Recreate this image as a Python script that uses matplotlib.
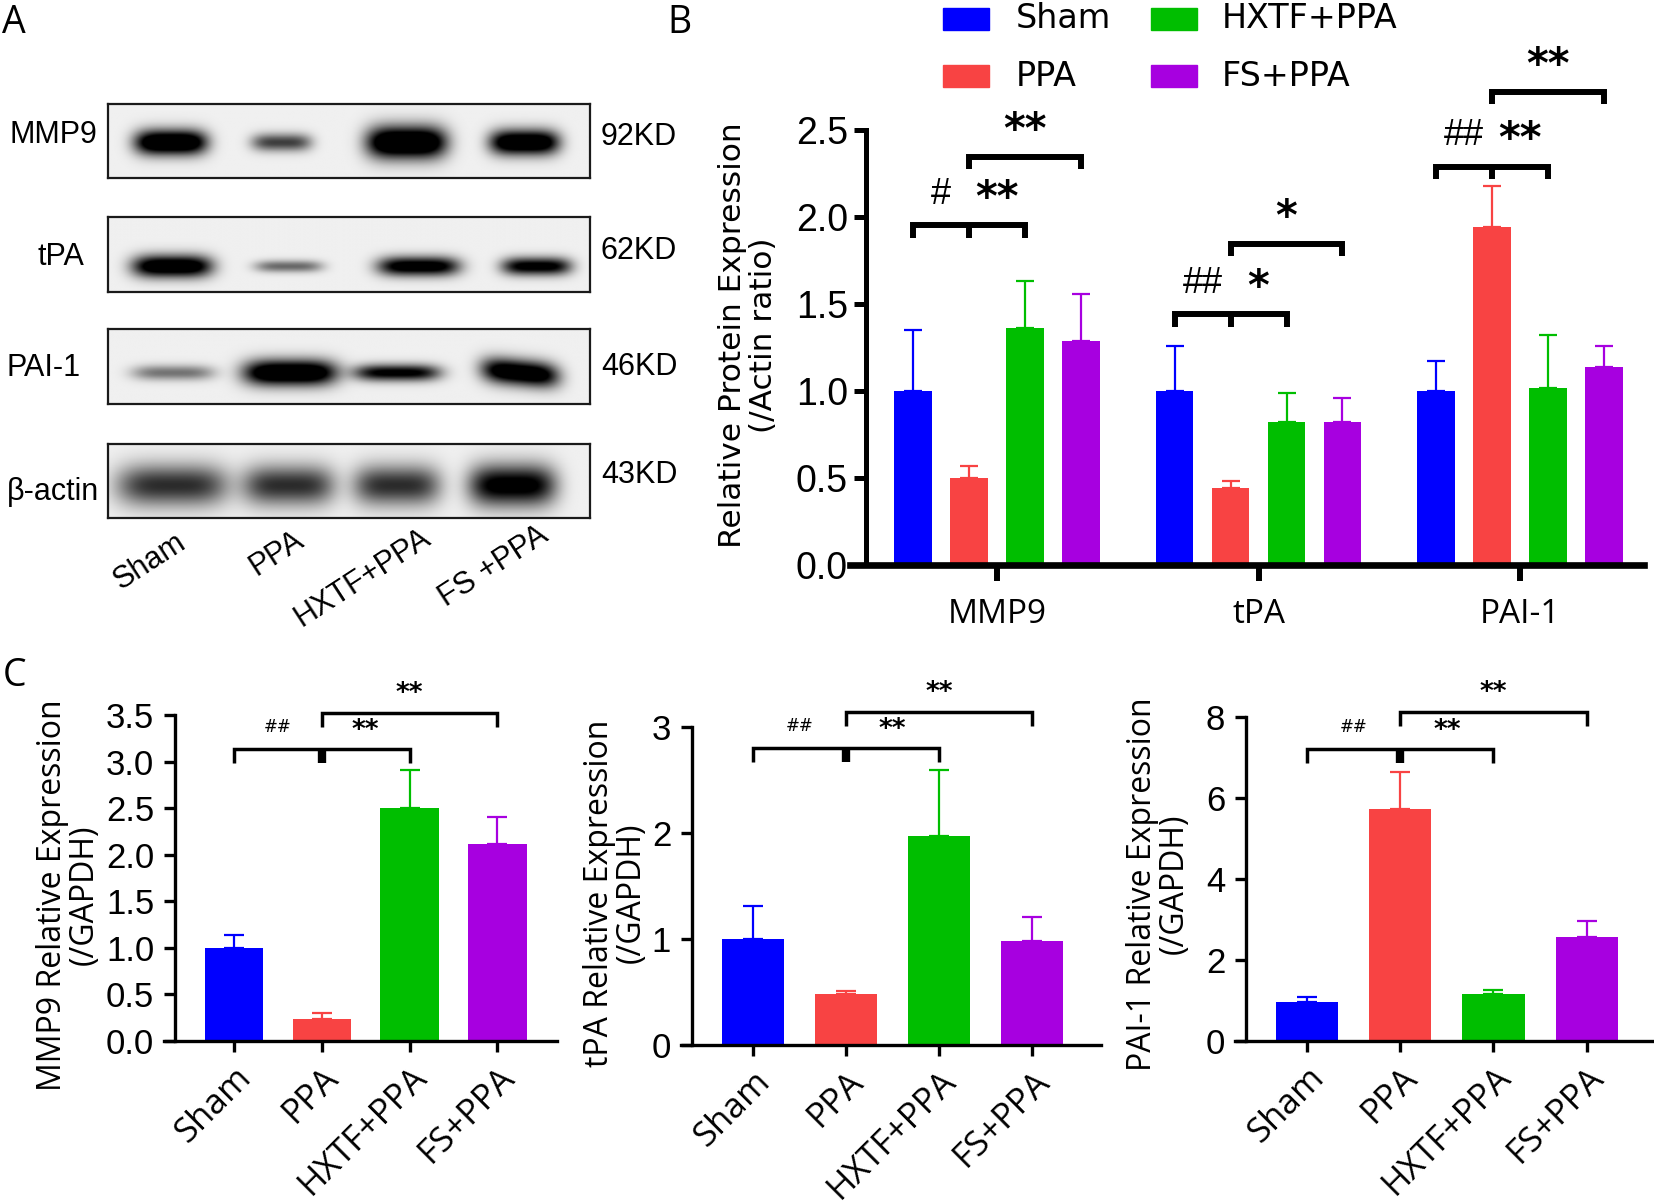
import numpy as np
import matplotlib
matplotlib.use('Agg')
import matplotlib.pyplot as plt
import matplotlib.transforms as mtransforms
from matplotlib.patches import Rectangle
from matplotlib import font_manager

# --- data -------------------------------------------------------------
groups = ['Sham', 'PPA', 'HXTF+PPA', 'FS+PPA']
colors = ['#0000FF', '#F84343', '#00BE00', '#A700E0']

# western blot band darkness per lane (Sham, PPA, HXTF+PPA, FS+PPA)
blot_rows = ['MMP9', 'tPA', 'PAI-1', 'β-actin']
blot_kd = ['92KD', '62KD', '46KD', '43KD']
band_mmp9 = [0.97, 0.50, 1.00, 0.93]
band_tpa = [0.88, 0.38, 0.80, 0.75]
band_pai1 = [0.35, 0.95, 0.72, 0.88]
band_actin = [0.55, 0.55, 0.55, 0.75]
lane_labels = ['Sham', 'PPA', 'HXTF+PPA', 'FS +PPA']

# panel B: protein / actin ratio
proteins = ['MMP9', 'tPA', 'PAI-1']
b_sham = [1.00, 1.00, 1.00]
b_ppa = [0.50, 0.44, 1.94]
b_hxtf = [1.36, 0.82, 1.02]
b_fs = [1.29, 0.82, 1.14]
b_sham_sd = [0.35, 0.26, 0.17]
b_ppa_sd = [0.07, 0.04, 0.24]
b_hxtf_sd = [0.27, 0.17, 0.30]
b_fs_sd = [0.27, 0.14, 0.12]

# panel C: mRNA / GAPDH
mmp9_rel = [1.00, 0.24, 2.50, 2.12]
mmp9_sd = [0.14, 0.06, 0.41, 0.28]
tpa_rel = [1.00, 0.48, 1.97, 0.98]
tpa_sd = [0.31, 0.03, 0.62, 0.23]
pai1_rel = [0.97, 5.73, 1.15, 2.57]
pai1_sd = [0.11, 0.91, 0.11, 0.39]

# --- fonts ------------------------------------------------------------
installed = {f.name for f in font_manager.fontManager.ttflist}
NARROW = 'Liberation Sans Narrow' if 'Liberation Sans Narrow' in installed else 'Liberation Sans'
SANS = 'Open Sans'
plt.rcParams['font.family'] = [SANS, 'DejaVu Sans']

W, H = 1654, 1204
fig = plt.figure(figsize=(W / 100, H / 100), dpi=100)


def px_axes(left, top, right, bottom):
    return fig.add_axes([left / W, 1 - bottom / H, (right - left) / W, (bottom - top) / H])


def ftext(x, y, s, **kw):
    return fig.text(x / W, 1 - y / H, s, **kw)


# --- panel A: blots ---------------------------------------------------
ftext(2, 4, 'A', fontsize=27, ha='left', va='top')

blot_boxes = [(104, 178), (217, 292), (329, 404), (444, 518)]
blot_bands = [band_mmp9, band_tpa, band_pai1, band_actin]
# lane geometry (fraction of box): centers, half widths, band centre y, half height
lane_geo = [
    ([0.13, 0.36, 0.62, 0.865], [0.075, 0.062, 0.083, 0.072], 0.52, [0.17, 0.12, 0.22, 0.17]),
    ([0.133, 0.375, 0.645, 0.89], [0.083, 0.07, 0.085, 0.072], 0.66, [0.15, 0.08, 0.13, 0.12]),
    ([0.135, 0.378, 0.60, 0.856], [0.085, 0.097, 0.09, 0.08], 0.59, [0.10, 0.17, 0.11, 0.17]),
    ([0.133, 0.375, 0.60, 0.84], [0.115, 0.095, 0.09, 0.09], 0.56, [0.28, 0.27, 0.27, 0.28]),
]
left_lab = [(53, 135), (61, 257), (44, 368), (53, 492)]
kd_y = [137, 251, 367, 475]

xx, yy = np.meshgrid(np.linspace(0, 1, 480), np.linspace(0, 1, 90))
for i, (top, bot) in enumerate(blot_boxes):
    ax = px_axes(108, top, 590, bot)
    centers, hws, yc, hhs = lane_geo[i]
    img = np.full_like(xx, 0.94)
    for dark, c, hw, hh in zip(blot_bands[i], centers, hws, hhs):
        # PAI-1 FS lane runs slightly downhill in the original scan
        tilt = 0.6 * (xx - c) if (i == 2 and c > 0.8) else 0.0
        img -= 1.4 * dark * np.exp(-np.abs((xx - c) / hw) ** 4) \
            * np.exp(-((yy - yc - tilt) / hh) ** 2)
    ax.imshow(np.clip(img, 0, 1), cmap='gray', vmin=0, vmax=1, aspect='auto',
              extent=[0, 1, 1, 0], interpolation='bilinear')
    ax.set_xticks([])
    ax.set_yticks([])
    for sp in ax.spines.values():
        sp.set_linewidth(1.6)
        sp.set_color('#1a1a1a')
    ftext(left_lab[i][0], left_lab[i][1], blot_rows[i], fontsize=22, family=NARROW,
          ha='center', va='center')
    ftext(601, kd_y[i], blot_kd[i], fontsize=22, family=NARROW, ha='left', va='center')

for lab, (x, y) in zip(lane_labels, [(150, 562), (277, 553), (363, 578), (494, 567)]):
    ftext(x, y, lab, fontsize=22, family=NARROW, rotation=33, ha='center', va='center',
          rotation_mode='anchor')

# --- panel B ----------------------------------------------------------
ftext(667, 4, 'B', fontsize=27, ha='left', va='top')

axB = px_axes(866, 130, 1644, 565)
x = np.arange(len(proteins))
offsets = [-0.321, -0.107, 0.107, 0.321]
b_means = [b_sham, b_ppa, b_hxtf, b_fs]
b_sds = [b_sham_sd, b_ppa_sd, b_hxtf_sd, b_fs_sd]
for k in range(4):
    xs = x + offsets[k]
    axB.bar(xs, b_means[k], width=0.143, color=colors[k], zorder=2)
    axB.errorbar(xs, b_means[k], yerr=[np.zeros(3), b_sds[k]], fmt='none', ecolor=colors[k],
                 elinewidth=1.6, capsize=6.5, capthick=1.6, zorder=1)

axB.set_xlim(-0.501, 2.474)
axB.set_ylim(0, 2.5)
axB.spines[['top', 'right']].set_visible(False)
axB.spines['left'].set_linewidth(3.6)
axB.spines['bottom'].set_linewidth(4.8)
axB.spines['bottom'].set_bounds(-0.501 - 16 / 261.5, 2.474)
axB.set_yticks(np.arange(0, 2.51, 0.5))
axB.set_yticklabels([f'{v:.1f}' for v in np.arange(0, 2.51, 0.5)], family=NARROW, fontsize=27)
axB.tick_params(axis='y', length=9, width=3.6, pad=4)
axB.set_xticks(x)
axB.set_xticklabels(proteins, fontsize=24)
axB.tick_params(axis='x', length=11.5, width=4.3, pad=12)
ftext(748, 335, 'Relative Protein Expression\n(/Actin ratio)', family='DejaVu Sans',
      fontsize=22.5, rotation=90, ha='center', va='center', multialignment='center',
      linespacing=1.05)

# significance brackets in panel B
b_marks = [  # (lower bracket y, upper bracket y, left mark, mid mark, top mark)
    (1.952, 2.346, '#', '**', '**'),
    (1.44, 1.844, '##', '*', '*'),
    (2.29, 2.72, '##', '**', '**'),
]
for g, (ylo, yup, m1, m2, m3) in enumerate(b_marks):
    xs = g + np.array(offsets)
    drop = 0.07
    axB.plot([xs[0], xs[0], xs[2], xs[2]], [ylo - drop, ylo, ylo, ylo - drop], color='k',
             lw=4.3, clip_on=False, solid_capstyle='butt', solid_joinstyle='miter')
    axB.plot([xs[1], xs[1]], [ylo, ylo - drop], color='k', lw=4.3, clip_on=False,
             solid_capstyle='butt')
    axB.plot([xs[1], xs[1], xs[3], xs[3]], [yup - drop, yup, yup, yup - drop], color='k',
             lw=4.3, clip_on=False, solid_capstyle='butt', solid_joinstyle='miter')
    axB.text(g - 0.214, ylo + 0.18, m1, fontsize=26, family='Liberation Sans',
             ha='center', va='center')
    axB.text(g + 0.0, ylo + 0.15, m2, fontsize=30, fontweight='bold', family='DejaVu Sans',
             ha='center', va='center')
    axB.text(g + 0.107, yup + 0.15, m3, fontsize=30, fontweight='bold', family='DejaVu Sans',
             ha='center', va='center')

# legend for panel B
leg_pos = [(943, 1016, 19), (943, 1016, 76), (1151, 1222, 19), (1151, 1222, 76)]
for k, (sx, tx, cy) in enumerate(leg_pos):
    fig.add_artist(Rectangle((sx / W, 1 - (cy + 11) / H), 46 / W, 22 / H,
                             transform=fig.transFigure, color=colors[k]))
    ftext(tx, cy, groups[k], family='DejaVu Sans', fontsize=24, ha='left', va='center')

# --- panel C ----------------------------------------------------------
ftext(3, 657, 'C', fontsize=27, ha='left', va='top')

c_panels = [
    ((175, 715, 557, 1041), (-0.673, 3.68), 3.5, np.arange(0, 3.51, 0.5), True,
     mmp9_rel, mmp9_sd, 'MMP9 Relative Expression\n(/GAPDH)', (68, 895), (3.14, 3.525)),
    ((692, 727, 1101, 1045), (-0.656, 3.74), 3.0, np.arange(0, 4), False,
     tpa_rel, tpa_sd, 'tPA Relative Expression\n(/GAPDH)', (615, 893), (2.80, 3.14)),
    ((1246, 717, 1652, 1041), (-0.654, 3.70), 8.0, np.arange(0, 9, 2), False,
     pai1_rel, pai1_sd, 'PAI-1 Relative Expression\n(/GAPDH)', (1158, 884), (7.22, 8.12)),
]
lbl_shift = mtransforms.ScaledTranslation(4 / 72, 0, fig.dpi_scale_trans)
for box, xl, ytop, yt, dec, vals, sds, ylab, lpos, (ylo, yup) in c_panels:
    ax = px_axes(*box)
    xi = np.arange(4)
    ax.bar(xi, vals, width=0.667, color=colors, zorder=2)
    for k in range(4):
        ax.errorbar(xi[k], vals[k], yerr=[[0], [sds[k]]], fmt='none', ecolor=colors[k],
                    elinewidth=1.6, capsize=7.5, capthick=1.6, zorder=1)
    ax.set_xlim(*xl)
    ax.set_ylim(0, ytop)
    ax.spines[['top', 'right']].set_visible(False)
    ax.spines['left'].set_linewidth(2.4)
    ax.spines['bottom'].set_linewidth(2.4)
    ppx = (box[2] - box[0]) / (xl[1] - xl[0])
    ax.spines['bottom'].set_bounds(xl[0] - 11 / ppx, xl[1])
    ax.set_yticks(yt)
    ax.set_yticklabels([f'{v:.1f}' if dec else f'{v:g}' for v in yt], family=NARROW,
                       fontsize=25)
    ax.tick_params(axis='y', length=8, width=2.4, pad=7)
    ax.set_xticks(xi)
    ax.set_xticklabels(groups, fontsize=25, rotation=45, ha='right', va='top',
                       rotation_mode='anchor')
    for lbl in ax.get_xticklabels():
        lbl.set_transform(lbl.get_transform() + lbl_shift)
    ax.tick_params(axis='x', length=8, width=2.4, pad=6)
    ftext(lpos[0], lpos[1], ylab, fontsize=23, rotation=90, ha='center', va='center',
          multialignment='center', linespacing=0.95)

    # brackets
    u = ytop / (box[3] - box[1])  # data units per pixel
    drop = 14 * u
    ax.plot([0, 0, 2, 2], [ylo - drop, ylo, ylo, ylo - drop], color='k', lw=2.5,
            clip_on=False, solid_capstyle='butt', solid_joinstyle='miter')
    ax.plot([1, 1], [ylo, ylo - drop], color='k', lw=6, clip_on=False, solid_capstyle='butt')
    ax.plot([1, 1, 3, 3], [yup - drop, yup, yup, yup - drop], color='k', lw=2.5,
            clip_on=False, solid_capstyle='butt', solid_joinstyle='miter')
    ax.text(0.5, ylo + 22 * u, '##', fontsize=12, family='DejaVu Sans', ha='center',
            va='center')
    ax.text(1.5, ylo + 18 * u, '**', fontsize=19, fontweight='bold', family='DejaVu Sans',
            ha='center', va='center')
    ax.text(2.0, yup + 19 * u, '**', fontsize=19, fontweight='bold', family='DejaVu Sans',
            ha='center', va='center')

fig.savefig('out.png', dpi=100)
